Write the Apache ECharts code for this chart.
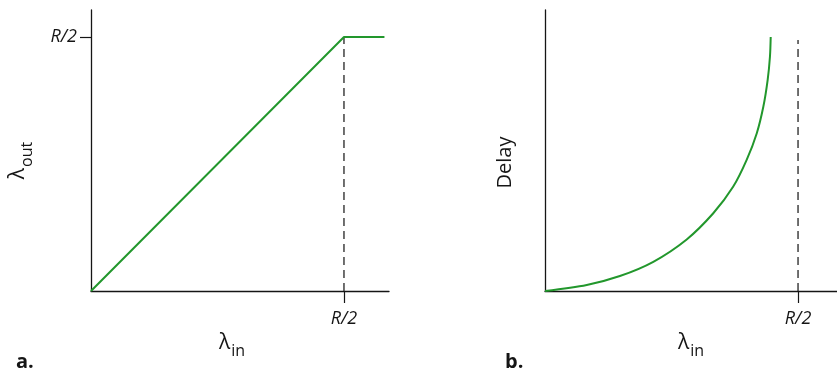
<!DOCTYPE html>
<html>
<head>
<meta charset="utf-8">
<script src="https://cdn.jsdelivr.net/npm/echarts@6/dist/echarts.min.js"></script>
<style>html,body{margin:0;padding:0;background:#fff}#c{width:837px;height:377px}</style>
</head>
<body>
<div id="c"></div>
<script>
// Panel a: throughput vs offered load (x, y in units of R/2)
const throughputX = [0, 1, 1.16];
const throughputY = [0, 1, 1];
// Panel b: delay vs offered load
const delayX = [0, 0.165, 0.296, 0.428, 0.560, 0.665, 0.744, 0.797, 0.837, 0.863, 0.880, 0.889, 0.892];
const delayY = [0, 0.024, 0.059, 0.115, 0.203, 0.306, 0.411, 0.516, 0.621, 0.726, 0.831, 0.922, 1.0];
// dashed guides at R/2
const guideAX = [1, 1], guideAY = [0, 1];
const guideBX = [1, 1], guideBY = [0, 0.988];
const tickLabel = 'R/2';
const panelLabels = ['a.', 'b.'];

const zip = (a, b) => a.map((v, i) => [v, b[i]]);
const green = '#22972c';
const ink = '#151515';
const lbl = {fontFamily: 'Open Sans', fontStyle: 'italic', fontSize: 18, color: ink};
const lamName = () => ({
  fontFamily: 'Open Sans', color: ink,
  rich: {
    l: {fontFamily: 'Open Sans', fontSize: 21, color: ink, verticalAlign: 'bottom', lineHeight: 24},
    s: {fontFamily: 'Open Sans', fontSize: 16, color: ink, verticalAlign: 'bottom', lineHeight: 24, padding: [0, 0, -6, 1]}
  }
});
const axLine = {lineStyle: {color: ink, width: 1.3}};

const chart = echarts.init(document.getElementById('c'));
chart.setOption({
  animation: false,
  backgroundColor: '#fff',
  title: [
    {text: panelLabels[0], left: 11, top: 347, textStyle: {fontFamily: 'Open Sans', fontWeight: 'bold', fontSize: 20, color: ink}},
    {text: panelLabels[1], left: 500, top: 347, textStyle: {fontFamily: 'Open Sans', fontWeight: 'bold', fontSize: 20, color: ink}}
  ],
  grid: [
    {left: 91, top: 10, width: 298, height: 281},
    {left: 545, top: 10, width: 292, height: 281}
  ],
  xAxis: [
    {gridIndex: 0, type: 'value', min: 0, max: 1.178, axisLine: axLine, splitLine: {show: false},
     axisTick: {customValues: [1], length: 12, lineStyle: {color: ink, width: 1.2}},
     axisLabel: Object.assign({customValues: [1], formatter: () => tickLabel, margin: 19}, lbl),
     name: '{l|λ}{s|in}', nameLocation: 'middle', nameGap: 34, nameTextStyle: Object.assign(lamName(), {padding: [0, 16, 0, 0]})},
    {gridIndex: 1, type: 'value', min: 0, max: 1.154, axisLine: axLine, splitLine: {show: false},
     axisTick: {customValues: [1], length: 12, lineStyle: {color: ink, width: 1.2}},
     axisLabel: Object.assign({customValues: [1], formatter: () => tickLabel, margin: 19}, lbl),
     name: '{l|λ}{s|in}', nameLocation: 'middle', nameGap: 34, nameTextStyle: lamName()}
  ],
  yAxis: [
    {gridIndex: 0, type: 'value', min: 0, max: 1.106, axisLine: axLine, splitLine: {show: false},
     axisTick: {customValues: [1], length: 11, lineStyle: {color: ink, width: 1.2}},
     axisLabel: Object.assign({customValues: [1], formatter: () => tickLabel, margin: 14}, lbl),
     name: '{l|λ}{s|out}', nameLocation: 'middle', nameGap: 62, nameTextStyle: Object.assign(lamName(), {padding: [0, 20, 0, 0]})},
    {gridIndex: 1, type: 'value', min: 0, max: 1.106, axisLine: axLine, splitLine: {show: false},
     axisTick: {show: false}, axisLabel: {show: false},
     name: 'Delay', nameLocation: 'middle', nameGap: 30,
     nameTextStyle: {fontFamily: 'Open Sans', fontSize: 20, color: ink, padding: [0, 24, 0, 0]}}
  ],
  series: [
    {type: 'line', xAxisIndex: 0, yAxisIndex: 0, data: zip(guideAX, guideAY), symbol: 'none',
     lineStyle: {color: '#222', width: 1.3, type: [8, 5]}},
    {type: 'line', xAxisIndex: 0, yAxisIndex: 0, data: zip(throughputX, throughputY), symbol: 'none',
     lineStyle: {color: green, width: 2}},
    {type: 'line', xAxisIndex: 1, yAxisIndex: 1, data: zip(guideBX, guideBY), symbol: 'none',
     lineStyle: {color: '#222', width: 1.3, type: [8, 5]}},
    {type: 'line', xAxisIndex: 1, yAxisIndex: 1, data: zip(delayX, delayY), symbol: 'none', smooth: 0.3,
     lineStyle: {color: green, width: 2}}
  ]
});
</script>
</body>
</html>
